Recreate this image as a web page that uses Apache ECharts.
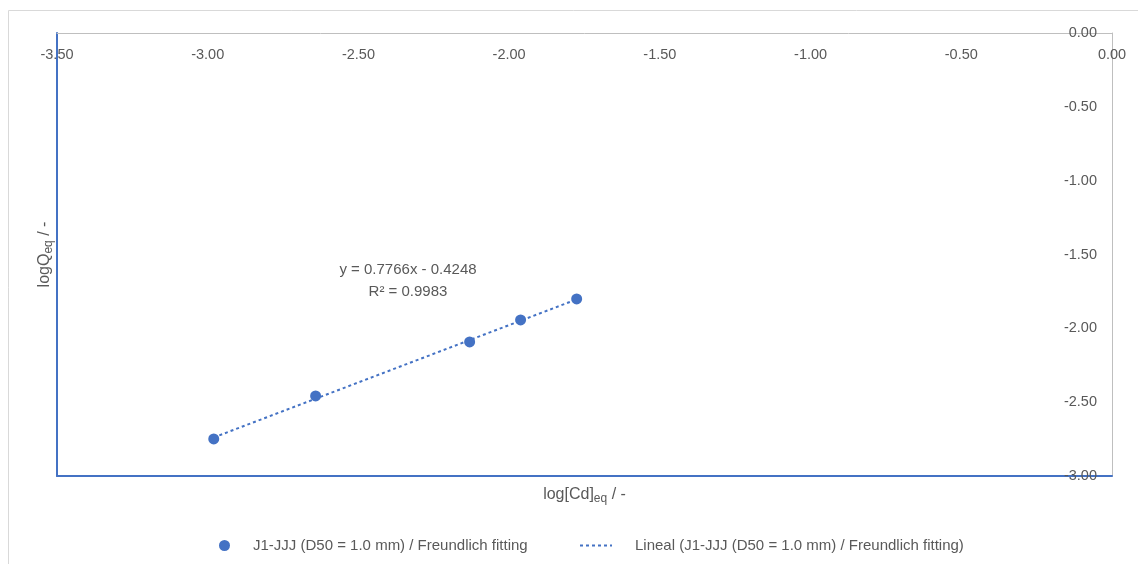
<!DOCTYPE html>
<html>
<head>
<meta charset="utf-8">
<script src="https://cdn.jsdelivr.net/npm/echarts@6/dist/echarts.min.js"></script>
<style>
html,body{margin:0;padding:0;background:#fff;}
#c{width:1138px;height:564px;}
</style>
</head>
<body>
<div id="c"></div>
<script>
// Data
const seriesName = 'J1-JJJ (D50 = 1.0 mm) / Freundlich fitting';
const trendName = 'Lineal (J1-JJJ (D50 = 1.0 mm) / Freundlich fitting)';
const logCd = [-2.98, -2.642, -2.131, -1.962, -1.776];
const logQ = [-2.749, -2.458, -2.092, -1.943, -1.801];
const trendX = [-2.98, -1.776];
const trendY = [-2.739, -1.804];
const eqText = 'y = 0.7766x - 0.4248';
const r2Text = 'R² = 0.9983';

const points = logCd.map((x, i) => [x, logQ[i]]);
const trend = trendX.map((x, i) => [x, trendY[i]]);

const FONT = 'Liberation Sans';
const TXT = '#595959';
const BLUE = '#4472c4';
const GRAY = '#bfbfbf';
const FS = 14.5;

const nameRich = {
  m: {fontSize: 16, color: TXT, fontFamily: FONT},
  s: {fontSize: 12, color: TXT, fontFamily: FONT, verticalAlign: 'bottom', padding: [9, 0, 0, 0]}
};

const chart = echarts.init(document.getElementById('c'), null, {renderer: 'canvas'});
chart.setOption({
  animation: false,
  textStyle: {fontFamily: FONT},
  grid: {left: 57, top: 33, right: 26, bottom: 88, containLabel: false},
  xAxis: [{
    type: 'value', min: -3.5, max: 0, interval: 0.5, position: 'top',
    axisLine: {onZero: false, lineStyle: {color: GRAY, width: 1}},
    axisTick: {show: false},
    splitLine: {show: false},
    axisLabel: {inside: true, margin: 14, color: TXT, fontSize: FS, fontFamily: FONT,
      formatter: v => v.toFixed(2)}
  }, {
    type: 'value', min: -3.5, max: 0, interval: 0.5, position: 'bottom',
    axisLine: {onZero: false, lineStyle: {color: BLUE, width: 2}},
    axisTick: {show: false}, splitLine: {show: false}, axisLabel: {show: false},
    name: '{m|log[Cd]}{s|eq}{m| / -}', nameLocation: 'middle', nameGap: 8,
    nameTextStyle: {rich: nameRich}
  }],
  yAxis: [{
    type: 'value', min: -3, max: 0, interval: 0.5, position: 'right',
    axisLine: {onZero: false, lineStyle: {color: GRAY, width: 1}},
    axisTick: {show: false},
    splitLine: {show: false},
    axisLabel: {inside: true, margin: 15, color: TXT, fontSize: FS, fontFamily: FONT,
      formatter: v => v.toFixed(2)}
  }, {
    type: 'value', min: -3, max: 0, interval: 0.5, position: 'left',
    axisLine: {onZero: false, lineStyle: {color: BLUE, width: 2}},
    axisTick: {show: false}, splitLine: {show: false}, axisLabel: {show: false},
    name: '{m|logQ}{s|eq}{m| / -}', nameLocation: 'middle', nameGap: 2, nameRotate: 90,
    nameTextStyle: {rich: nameRich}
  }],
  legend: [{
    bottom: 6, left: 214, itemWidth: 11, itemHeight: 11,
    textStyle: {color: TXT, fontSize: 15, fontFamily: FONT, padding: [0, 0, 0, 18]},
    data: [{name: seriesName, icon: 'circle', itemStyle: {color: BLUE, opacity: 1}}]
  }, {
    bottom: 6, left: 574, itemWidth: 32, itemHeight: 10,
    textStyle: {color: TXT, fontSize: 15, fontFamily: FONT, padding: [0, 0, 0, 18]},
    data: [{name: trendName, itemStyle: {opacity: 0}, lineStyle: {color: BLUE, width: 2, type: [3, 3]}}]
  }],
  series: [{
    name: trendName, type: 'line', data: trend, showSymbol: false, symbol: 'none',
    lineStyle: {color: BLUE, width: 2, type: [3, 3]}, itemStyle: {color: BLUE}, z: 2
  }, {
    name: seriesName, type: 'scatter', data: points, symbol: 'circle', symbolSize: 11,
    itemStyle: {color: BLUE, opacity: 1}, z: 3
  }],
  graphic: [{
    type: 'rect', shape: {x: 8.5, y: 10.5, width: 1140, height: 560}, silent: true,
    style: {fill: 'none', stroke: '#d9d9d9', lineWidth: 1}, z: -10
  }, {
    type: 'text', x: 408, y: 259,
    style: {text: eqText + '\n' + r2Text, fill: TXT, font: '15px ' + FONT, lineHeight: 22,
      align: 'center'}
  }]
});
</script>
</body>
</html>
